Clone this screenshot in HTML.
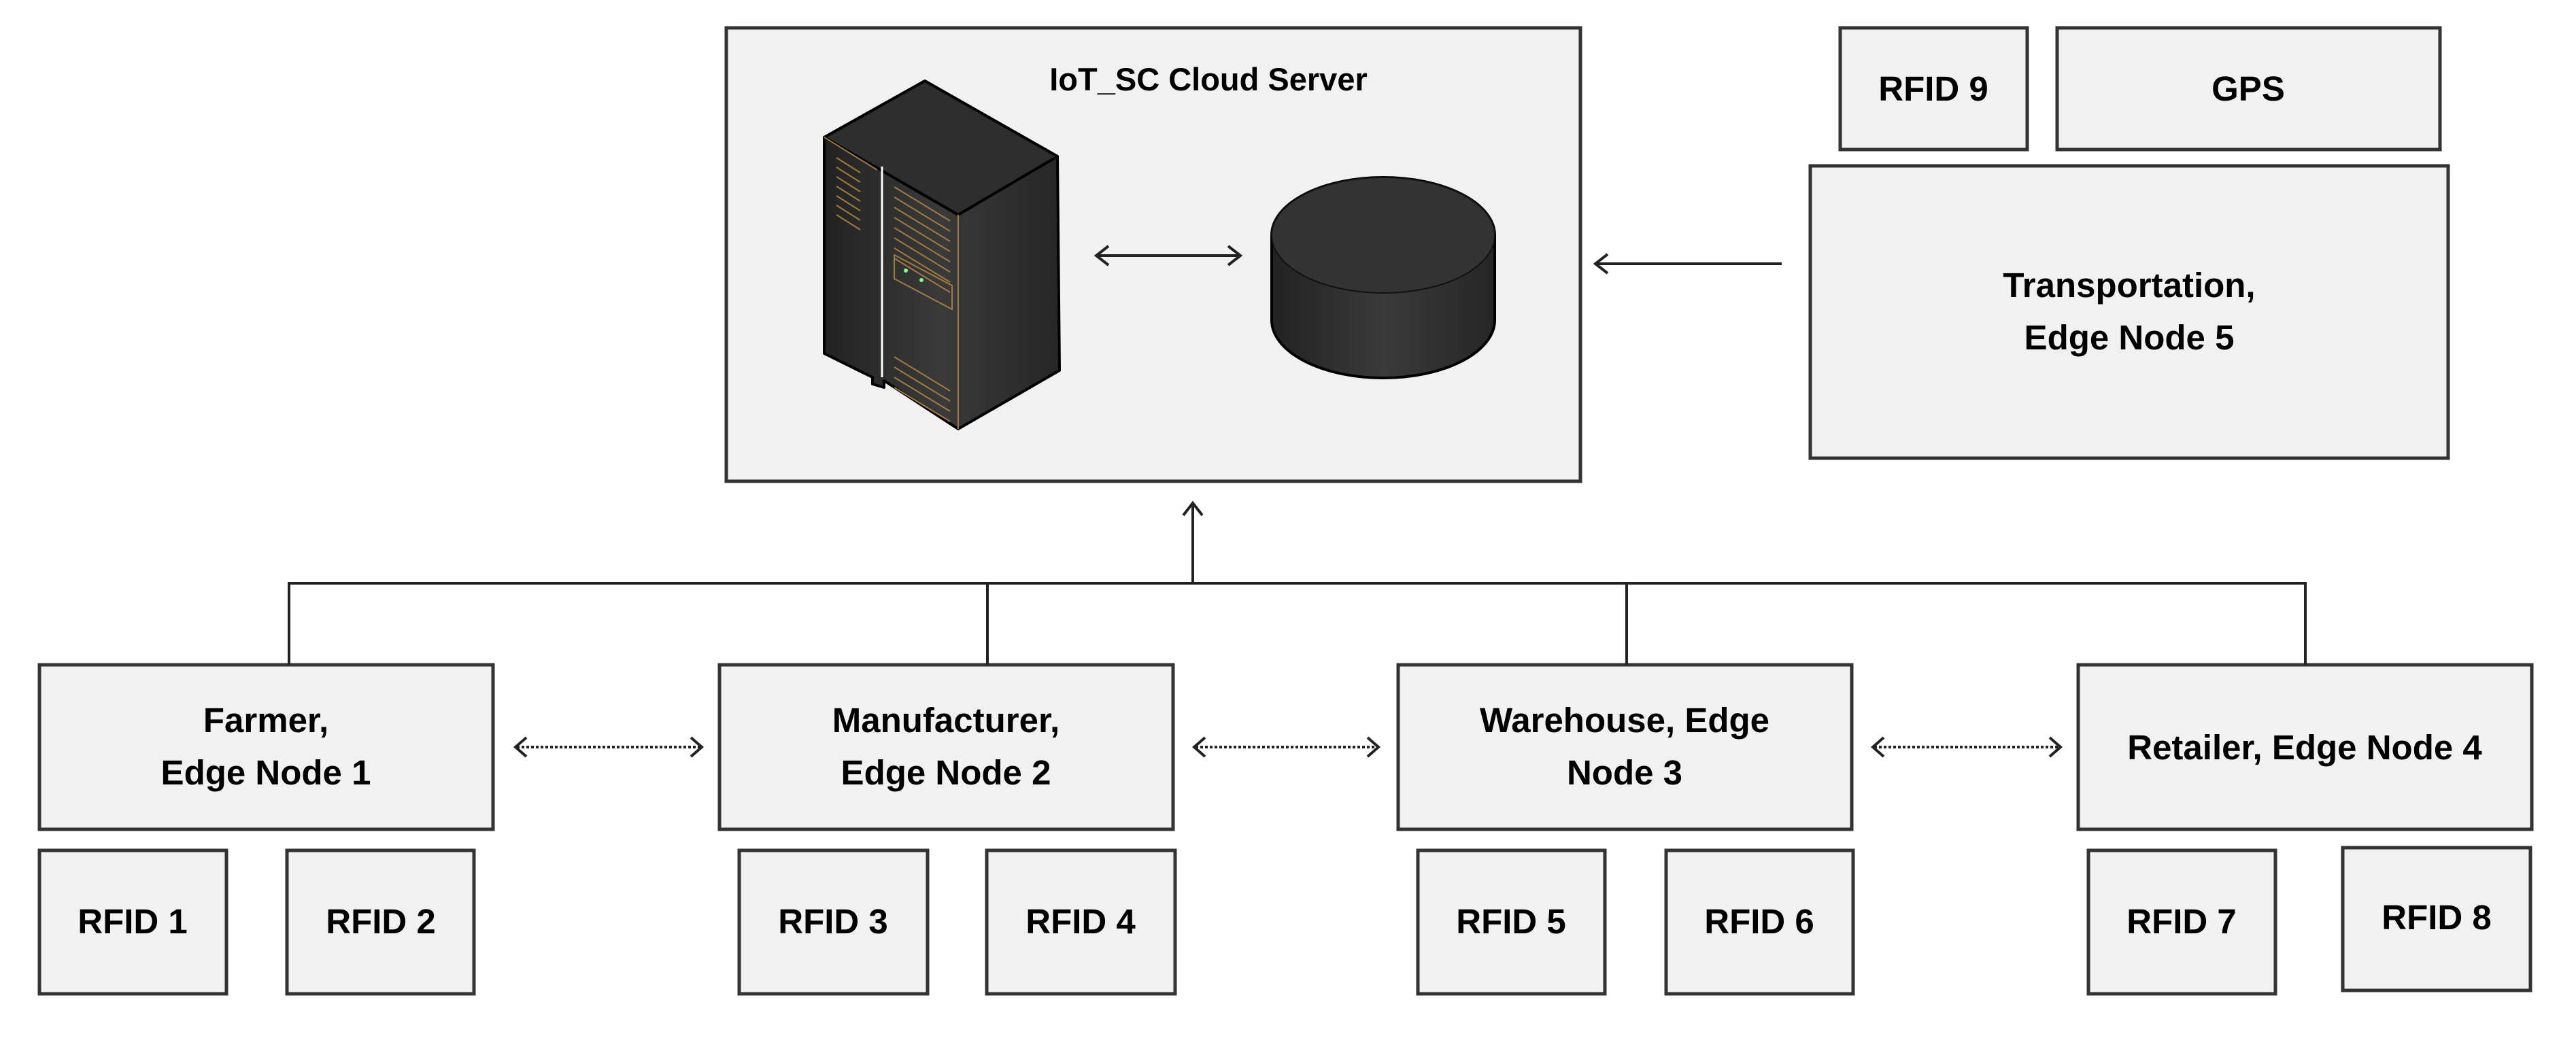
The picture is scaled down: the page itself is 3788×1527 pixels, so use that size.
<!DOCTYPE html>
<html><head><meta charset="utf-8"><style>html,body{margin:0;padding:0;background:#fff}svg{display:block}</style></head>
<body>
<svg width="3788" height="1527" viewBox="0 0 3788 1527" xmlns="http://www.w3.org/2000/svg" font-family="Liberation Sans, sans-serif" font-weight="bold" text-anchor="middle">
<defs>
<linearGradient id="sg" x1="0" x2="1"><stop offset="0" stop-color="#222"/><stop offset="0.5" stop-color="#3a3a3a"/><stop offset="1" stop-color="#262626"/></linearGradient>
</defs>
<g fill="#f1f1f1" stroke="#333" stroke-width="5">
<rect x="1068" y="41" width="1256" height="667"/>
<rect x="2706" y="41" width="275" height="179"/>
<rect x="3025" y="41" width="563" height="179"/>
<rect x="2662" y="244" width="938" height="430"/>
<rect x="58" y="978" width="667" height="242"/>
<rect x="1058" y="978" width="667" height="242"/>
<rect x="2056" y="978" width="667" height="242"/>
<rect x="3056" y="978" width="667" height="242"/>
<rect x="58" y="1251" width="275" height="211"/>
<rect x="422" y="1251" width="275" height="211"/>
<rect x="1087" y="1251" width="277" height="211"/>
<rect x="1451" y="1251" width="277" height="211"/>
<rect x="2085" y="1251" width="275" height="211"/>
<rect x="2450" y="1251" width="275" height="211"/>
<rect x="3071" y="1251" width="275" height="211"/>
<rect x="3445" y="1247" width="276" height="210"/>
</g>
<!-- server -->
<g stroke="#000" stroke-width="4" stroke-linejoin="round">
<polygon points="1360,119 1555,230 1558,545 1409,631 1300,560 1300,570 1283,565 1283,555 1212,520 1212,202" fill="url(#sg)"/>
<polygon points="1360,119 1555,230 1409,316 1212,202" fill="#2e2e2e"/>
</g>
<g stroke="#a07a40" stroke-width="2" fill="none">
<line x1="1409" y1="316" x2="1409" y2="631"/>
<line x1="1212" y1="202" x2="1290" y2="250"/>
<path d="M1230 232 l35 22 M1230 246 l35 22 M1230 260 l35 22 M1230 274 l35 22 M1230 288 l35 22 M1230 302 l35 22 M1230 316 l35 22"/>
<path d="M1315 275 l82 50 M1315 290 l82 50 M1315 305 l82 50 M1315 320 l82 50 M1315 335 l82 50 M1315 350 l82 50 M1315 365 l82 50 M1315 380 l82 50"/>
<path d="M1315 525 l82 50 M1315 540 l82 50 M1315 555 l82 50 M1315 570 l82 50"/>
<polygon points="1315,375 1400,420 1400,455 1315,410"/>
</g>
<line x1="1297" y1="245" x2="1297" y2="555" stroke="#fff" stroke-width="3"/>
<circle cx="1332" cy="398" r="3" fill="#8f8"/><circle cx="1355" cy="412" r="3" fill="#8f8"/>
<!-- cylinder -->
<path d="M1870 346 A164 85 0 0 1 2198 346 L2198 471 A164 85 0 0 1 1870 471 Z" fill="url(#sg)" stroke="#000" stroke-width="4"/>
<ellipse cx="2034" cy="346" rx="164" ry="85" fill="#333" stroke="#111" stroke-width="2"/>
<!-- arrows -->
<g stroke="#222" stroke-width="4" fill="none">
<line x1="1612" y1="376" x2="1824" y2="376"/>
<path d="M1630 362 L1612 376 L1630 390 M1806 362 L1824 376 L1806 390"/>
<line x1="2346" y1="388" x2="2620" y2="388"/>
<path d="M2364 374 L2346 388 L2364 402"/>
<line x1="1754" y1="740" x2="1754" y2="858"/>
<path d="M1740 758 L1754 740 L1768 758"/>
<polyline points="425,978 425,858 3390,858 3390,978"/>
<line x1="1452" y1="858" x2="1452" y2="978"/>
<line x1="2392" y1="858" x2="2392" y2="978"/>
</g>
<g stroke="#222" stroke-width="4" fill="none">
<path d="M774 1085 L758 1099 L774 1113 M1016 1085 L1032 1099 L1016 1113"/>
<path d="M1772 1085 L1756 1099 L1772 1113 M2011 1085 L2027 1099 L2011 1113"/>
<path d="M2770 1085 L2754 1099 L2770 1113 M3014 1085 L3030 1099 L3014 1113"/>
<g stroke-dasharray="4 3">
<line x1="760" y1="1099" x2="1030" y2="1099"/>
<line x1="1758" y1="1099" x2="2025" y2="1099"/>
<line x1="2756" y1="1099" x2="3028" y2="1099"/>
</g>
</g>
<!-- text -->
<g fill="#000" font-size="51">
<text x="1777" y="133" font-size="47">IoT_SC Cloud Server</text>
<text x="2843" y="148">RFID 9</text>
<text x="3306" y="148">GPS</text>
<text x="3131" y="437">Transportation,</text>
<text x="3131" y="514">Edge Node 5</text>
<text x="391" y="1077">Farmer,</text>
<text x="391" y="1154">Edge Node 1</text>
<text x="1391" y="1077">Manufacturer,</text>
<text x="1391" y="1154">Edge Node 2</text>
<text x="2389" y="1077">Warehouse, Edge</text>
<text x="2389" y="1154">Node 3</text>
<text x="3389" y="1117">Retailer, Edge Node 4</text>
<text x="195" y="1373">RFID 1</text>
<text x="560" y="1373">RFID 2</text>
<text x="1225" y="1373">RFID 3</text>
<text x="1589" y="1373">RFID 4</text>
<text x="2222" y="1373">RFID 5</text>
<text x="2587" y="1373">RFID 6</text>
<text x="3208" y="1373">RFID 7</text>
<text x="3583" y="1367">RFID 8</text>
</g>
</svg>
</body></html>
